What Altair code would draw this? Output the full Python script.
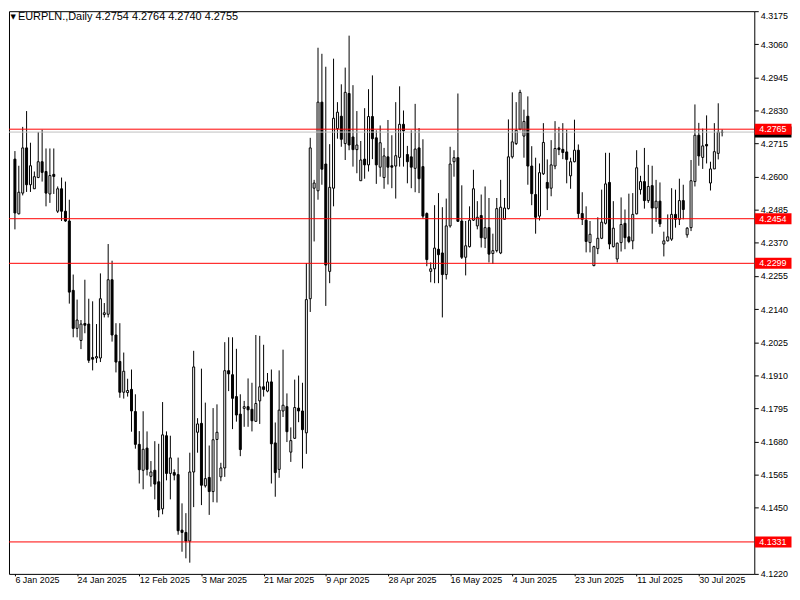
import altair as alt
import pandas as pd

# ---- data (EURPLN daily candles) ----
opens = [4.2661,4.2471,4.2543,4.2700,4.2572,4.2558,4.2597,4.2652,4.2618,4.2540,
4.2608,4.2480,4.2558,4.2480,4.2446,4.2205,4.2073,4.2031,4.2090,4.2088,
4.1972,4.1970,4.1970,4.2121,4.2122,4.2242,4.2050,4.1958,4.1851,4.1850,
4.1861,4.1784,4.1670,4.1580,4.1657,4.1559,4.1580,4.1540,4.1446,4.1700,
4.1569,4.1572,4.1565,4.1372,4.1364,4.1334,4.1574,4.1712,4.1743,4.1526,
4.1555,4.1506,4.1687,4.1557,4.1588,4.1926,4.1912,4.1836,4.1775,4.1795,
4.1801,4.1792,4.1750,4.1821,4.1870,4.1855,4.1887,4.1675,4.1583,4.1786,
4.1801,4.1643,4.1691,4.1796,4.1786,4.1710,4.2176,4.2560,4.2551,4.2859,
4.2644,4.2271,4.2560,4.2767,4.2810,4.2715,4.2889,4.2738,4.2694,4.2586,
4.2661,4.2641,4.2809,4.2735,4.2633,4.2597,4.2669,4.2638,4.2637,4.2667,
4.2782,4.2677,4.2669,4.2629,4.2700,4.2635,4.2472,4.2271,4.2280,4.2348,
4.2335,4.2260,4.2429,4.2652,4.2666,4.2446,4.2320,4.2357,4.2449,4.2429,
4.2465,4.2386,4.2423,4.2333,4.2343,4.2335,4.2452,4.2489,4.2669,4.2715,
4.2765,4.2741,4.2810,4.2637,4.2538,4.2463,4.2610,4.2580,4.2560,4.2637,
4.2700,4.2695,4.2686,4.2603,4.2652,4.2692,4.2472,4.2449,4.2371,4.2291,
4.2350,4.2386,4.2438,4.2580,4.2357,4.2314,4.2371,4.2438,4.2391,4.2377,
4.2471,4.2555,4.2583,4.2517,4.2569,4.2491,4.2515,4.2366,4.2377,4.2383,
4.2469,4.2452,4.2517,4.2398,4.2423,4.2583,4.2744,4.2667,4.2712,4.2578,
4.2627,4.2681,4.2754]
highs = [4.2689,4.2638,4.2773,4.2828,4.2718,4.2618,4.2755,4.2763,4.2698,4.2698,
4.2698,4.2566,4.2597,4.2583,4.2520,4.2260,4.2173,4.2102,4.2242,4.2176,
4.2167,4.2088,4.2264,4.2161,4.2366,4.2308,4.2091,4.2091,4.1989,4.1898,
4.1930,4.1844,4.1716,4.1785,4.1715,4.1612,4.1681,4.1672,4.1817,4.1715,
4.1700,4.1583,4.1624,4.1465,4.1431,4.1641,4.1995,4.1761,4.1933,4.1815,
4.1666,4.1796,4.1809,4.1606,4.2025,4.2042,4.2042,4.2002,4.1844,4.1821,
4.1899,4.1884,4.2050,4.2047,4.2016,4.1918,4.1930,4.1746,4.1927,4.1999,
4.1847,4.1729,4.1895,4.1909,4.1884,4.2300,4.2735,4.2589,4.3048,4.3027,
4.2982,4.2713,4.3010,4.2859,4.2921,4.2979,4.3090,4.2918,4.2828,4.2724,
4.2838,4.2904,4.2952,4.2761,4.2778,4.2700,4.2797,4.2744,4.2859,4.2914,
4.2830,4.2707,4.2761,4.2853,4.2769,4.2730,4.2476,4.2302,4.2501,4.2543,
4.2494,4.2524,4.2704,4.2692,4.2889,4.2570,4.2446,4.2497,4.2624,4.2515,
4.2538,4.2566,4.2526,4.2402,4.2526,4.2589,4.2526,4.2799,4.2893,4.2859,
4.2902,4.2833,4.2879,4.2706,4.2666,4.2646,4.2786,4.2660,4.2727,4.2793,
4.2773,4.2786,4.2763,4.2666,4.2798,4.2712,4.2546,4.2497,4.2446,4.2360,
4.2459,4.2555,4.2683,4.2683,4.2515,4.2371,4.2528,4.2486,4.2541,4.2543,
4.2692,4.2603,4.2700,4.2641,4.2638,4.2589,4.2580,4.2409,4.2469,4.2560,
4.2555,4.2593,4.2572,4.2425,4.2658,4.2851,4.2787,4.2767,4.2813,4.2652,
4.2786,4.2855,4.2764]
lows = [4.2417,4.2469,4.2535,4.2547,4.2547,4.2558,4.2595,4.2583,4.2497,4.2509,
4.2540,4.2474,4.2446,4.2443,4.2159,4.2042,4.2042,4.2001,4.2056,4.1953,
4.1927,4.1953,4.1956,4.2111,4.2111,4.2027,4.1920,4.1832,4.1829,4.1836,
4.1714,4.1655,4.1534,4.1514,4.1562,4.1523,4.1479,4.1417,4.1427,4.1545,
4.1479,4.1545,4.1356,4.1297,4.1274,4.1259,4.1452,4.1641,4.1459,4.1520,
4.1425,4.1469,4.1468,4.1542,4.1557,4.1855,4.1723,4.1749,4.1629,4.1731,
4.1731,4.1715,4.1749,4.1741,4.1836,4.1851,4.1534,4.1488,4.1554,4.1765,
4.1678,4.1609,4.1689,4.1747,4.1586,4.1637,4.2130,4.2375,4.2520,4.2572,
4.2151,4.2230,4.2497,4.2732,4.2704,4.2658,4.2692,4.2635,4.2612,4.2586,
4.2593,4.2618,4.2661,4.2575,4.2600,4.2558,4.2573,4.2560,4.2524,4.2635,
4.2635,4.2577,4.2560,4.2546,4.2543,4.2454,4.2289,4.2233,4.2230,4.2230,
4.2111,4.2243,4.2423,4.2600,4.2443,4.2314,4.2257,4.2354,4.2446,4.2417,
4.2354,4.2352,4.2302,4.2297,4.2337,4.2331,4.2452,4.2486,4.2663,4.2710,
4.2761,4.2666,4.2572,4.2501,4.2402,4.2448,4.2606,4.2484,4.2532,4.2626,
4.2675,4.2661,4.2577,4.2558,4.2650,4.2455,4.2432,4.2337,4.2337,4.2289,
4.2331,4.2383,4.2434,4.2348,4.2354,4.2302,4.2340,4.2348,4.2369,4.2348,
4.2469,4.2538,4.2489,4.2509,4.2402,4.2443,4.2425,4.2323,4.2375,4.2377,
4.2423,4.2432,4.2452,4.2388,4.2411,4.2566,4.2638,4.2627,4.2646,4.2552,
4.2627,4.2660,4.2740]
closes = [4.2474,4.2546,4.2700,4.2572,4.2638,4.2600,4.2652,4.2615,4.2543,4.2604,
4.2601,4.2558,4.2480,4.2446,4.2199,4.2073,4.2102,4.2088,4.2084,4.1962,
4.1966,4.1975,4.2176,4.2127,4.2242,4.2050,4.1956,4.1851,4.1924,4.1857,
4.1786,4.1670,4.1582,4.1653,4.1583,4.1574,4.1532,4.1442,4.1703,4.1569,
4.1623,4.1563,4.1370,4.1364,4.1334,4.1574,4.1939,4.1741,4.1528,4.1551,
4.1506,4.1686,4.1712,4.1588,4.1926,4.1915,4.1830,4.1772,4.1652,4.1801,
4.1790,4.1752,4.1812,4.1870,4.1861,4.1887,4.1672,4.1572,4.1789,4.1806,
4.1714,4.1683,4.1798,4.1786,4.1721,4.2173,4.2700,4.2578,4.2859,4.2626,
4.2293,4.2563,4.2803,4.2824,4.2730,4.2893,4.2710,4.2694,4.2710,4.2658,
4.2641,4.2809,4.2732,4.2641,4.2718,4.2672,4.2633,4.2633,4.2673,4.2782,
4.2759,4.2652,4.2633,4.2696,4.2593,4.2463,4.2312,4.2280,4.2352,4.2329,
4.2260,4.2429,4.2644,4.2666,4.2445,4.2320,4.2360,4.2449,4.2558,4.2459,
4.2388,4.2423,4.2331,4.2343,4.2489,4.2494,4.2491,4.2669,4.2721,4.2761,
4.2893,4.2792,4.2637,4.2541,4.2459,4.2614,4.2719,4.2560,4.2641,4.2698,
4.2694,4.2684,4.2660,4.2652,4.2692,4.2472,4.2452,4.2375,4.2400,4.2357,
4.2386,4.2442,4.2575,4.2366,4.2421,4.2369,4.2434,4.2388,4.2375,4.2469,
4.2631,4.2583,4.2517,4.2566,4.2491,4.2515,4.2436,4.2377,4.2391,4.2469,
4.2452,4.2517,4.2486,4.2421,4.2586,4.2744,4.2672,4.2707,4.2707,4.2627,
4.2687,4.2755,4.2755]

tick_idx = [0, 16, 32, 48, 64, 80, 96, 112, 128, 144, 160, 176]
tick_labels = ["6 Jan 2025", "24 Jan 2025", "12 Feb 2025", "3 Mar 2025",
               "21 Mar 2025", "9 Apr 2025", "28 Apr 2025", "16 May 2025",
               "4 Jun 2025", "23 Jun 2025", "11 Jul 2025", "30 Jul 2025"]
y_ticks = [4.3175, 4.3060, 4.2945, 4.2830, 4.2715, 4.2600, 4.2485, 4.2370,
           4.2255, 4.2140, 4.2025, 4.1910, 4.1795, 4.1680, 4.1565, 4.1450,
           4.1335, 4.1220]
levels = [4.2765, 4.2454, 4.2299, 4.1331]
bid = [4.2755]
symbol_text = "EURPLN.,Daily  4.2754 4.2764 4.2740 4.2755"

FONT = "Liberation Sans"
W, H = 751, 567
HALF_BOX = 0.0019  # half height of the price tags, in price units

df = pd.DataFrame({"i": list(range(len(opens))), "o": opens, "h": highs,
                   "l": lows, "c": closes})
lv = pd.DataFrame({"p": levels, "t": [f"{v:.4f}" for v in levels]})
bd = pd.DataFrame({"p": bid, "t": [f"{v:.4f}" for v in bid]})

xs = alt.Scale(domain=[-0.25, 189.0], nice=False, zero=False)
ys = alt.Scale(domain=[4.1220, 4.3175], nice=False, zero=False)

idx_js = "[" + ",".join(str(v) for v in tick_idx) + "]"
lab_js = "[" + ",".join(f"'{t}'" for t in tick_labels) + "]"
xax = alt.Axis(values=tick_idx, labelExpr=f"{lab_js}[indexof({idx_js}, datum.value)]",
               orient="bottom", title=None, grid=False, domain=False,
               tickSize=2, tickColor="black", labelColor="black",
               labelFont=FONT, labelFontSize=9, labelAlign="left",
               labelFlush=False, labelOverlap=False, labelPadding=0)
yax = alt.Axis(values=y_ticks, format=".4f", orient="right", title=None,
               grid=False, domain=False, tickSize=4, tickColor="black",
               labelColor="black", labelFont=FONT, labelFontSize=9,
               labelBaseline={"condition": {"test": "datum.value > 4.317", "value": "top"},
                              "value": "middle"},
               labelFlush=False, labelOverlap=False, labelPadding=2)

X = lambda f: alt.X(f, type="quantitative", scale=xs, axis=xax)
Y = lambda f: alt.Y(f, type="quantitative", scale=ys, axis=yax)

wicks = alt.Chart(df).mark_rule(color="black", strokeWidth=1).encode(
    x=X("i"), y=Y("l"), y2="h")
bodies = alt.Chart(df).mark_bar(size=2, stroke="black", strokeWidth=1,
                                orient="vertical").encode(
    x=X("i"), y=Y("o"), y2="c",
    fill=alt.condition("datum.c >= datum.o", alt.value("white"), alt.value("black")))

lines = alt.Chart(lv).mark_rule(color="#FF0000", strokeWidth=1).encode(y=Y("p"))
bidline = alt.Chart(bd).mark_rule(color="#C0C0C0", strokeWidth=1).encode(y=Y("p"))

def tag_box(data, color):
    return alt.Chart(data).transform_calculate(
        lo=f"datum.p - {HALF_BOX}", hi=f"datum.p + {HALF_BOX}"
    ).mark_rect(color=color).encode(
        x=alt.value(W + 0.5), x2=alt.value(W + 37.5), y=Y("lo:Q"), y2="hi:Q")

bid_box = tag_box(bd, "black")
lv_box = tag_box(lv, "#FF0000")
lv_txt = alt.Chart(lv).mark_text(align="left", baseline="middle", color="white",
                                 font=FONT, fontSize=9).encode(
    x=alt.value(W + 5), y=Y("p"), text="t:N")

tri = alt.Chart(pd.DataFrame({"t": ["▼"]})).mark_text(
    align="left", baseline="middle", font="DejaVu Sans", fontSize=7, color="black").encode(
    x=alt.value(1.5), y=alt.value(6), text="t:N")
ttl = alt.Chart(pd.DataFrame({"t": [symbol_text]})).mark_text(
    align="left", baseline="middle", font=FONT, fontSize=11, color="black").encode(
    x=alt.value(9), y=alt.value(6), text="t:N")

chart = alt.layer(wicks, bodies, lines, bidline, bid_box, lv_box, lv_txt, tri, ttl).properties(
    width=W, height=H, background="white", padding=0
).configure_view(stroke="black", strokeWidth=1)

chart.save("out.html", embed_options={"renderer": "svg", "actions": False})
